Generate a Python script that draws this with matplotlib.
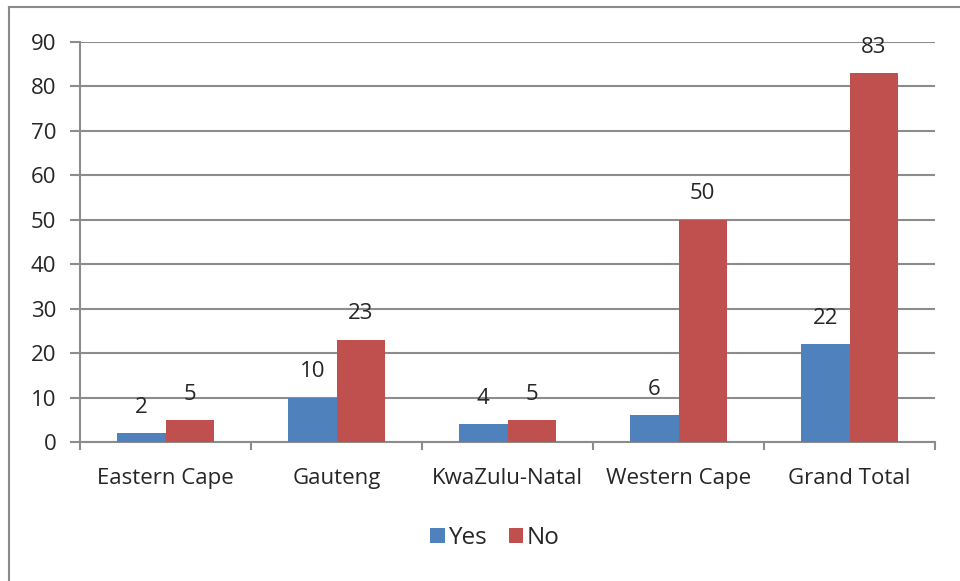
import matplotlib
matplotlib.use("Agg")
import matplotlib.pyplot as plt
from matplotlib.lines import Line2D
import numpy as np

categories = ["Eastern Cape", "Gauteng", "KwaZulu-Natal", "Western Cape", "Grand Total"]
yes_vals = [2, 10, 4, 6, 22]
no_vals = [5, 23, 5, 50, 83]
series_names = ["Yes", "No"]
yticks = list(range(0, 100, 10))

plt.rcParams['font.family'] = ['Open Sans', 'DejaVu Sans']
BLUE = "#4F81BD"
RED = "#C0504D"
GRID = "#8c8c8c"
TXT = "#262626"
FS = 16

fig = plt.figure(figsize=(9.6, 5.81), dpi=100)
ax = fig.add_axes([80/960, 1-442/581, (935-80)/960, (442-42)/581])

x = np.arange(len(categories))
w = 0.284
b1 = ax.bar(x - w/2, yes_vals, w, color=BLUE, label=series_names[0], zorder=3)
b2 = ax.bar(x + w/2, no_vals, w, color=RED, label=series_names[1], zorder=3)

for bars, vals in ((b1, yes_vals), (b2, no_vals)):
    for r, v in zip(bars, vals):
        ax.annotate(str(v), (r.get_x() + r.get_width()/2, v), xytext=(0, 11),
                    textcoords="offset points", ha="center", va="bottom",
                    fontsize=FS, color=TXT)

ax.set_xlim(-0.5, len(categories) - 0.5)
ax.set_ylim(0, 90)
ax.set_yticks(yticks)
ax.yaxis.grid(True, color=GRID, linewidth=1.5, zorder=0)
ax.set_axisbelow(True)
ax.tick_params(axis='y', length=7, width=1.5, color=GRID, labelsize=FS, labelcolor=TXT, pad=10)

ax.set_xticks(x)
ax.set_xticklabels(categories)
ax.tick_params(axis='x', length=0, labelsize=FS, labelcolor=TXT, pad=19)
ax.set_xticks(np.arange(-0.5, len(categories), 1.0), minor=True)
ax.tick_params(axis='x', which='minor', length=6, width=1.5, color=GRID)

for s in ("top", "right"):
    ax.spines[s].set_visible(False)
for s in ("left", "bottom"):
    ax.spines[s].set_color(GRID)
    ax.spines[s].set_linewidth(1.5)

leg = fig.legend(handles=[b1, b2], labels=series_names, loc="center",
                 bbox_to_anchor=(495/960, 1-538/581), ncol=2, frameon=False,
                 fontsize=17.5, handlelength=0.6, handleheight=0.6,
                 handletextpad=0.15, columnspacing=0.9)
for t in leg.get_texts():
    t.set_color(TXT)

fig.add_artist(Line2D([9/960, 9/960], [0, 1-7/581], transform=fig.transFigure, color="#8a8a8a", linewidth=1.5))
fig.add_artist(Line2D([9/960, 1], [1-7/581, 1-7/581], transform=fig.transFigure, color="#8a8a8a", linewidth=1.5))

fig.savefig("out.png", dpi=100)
